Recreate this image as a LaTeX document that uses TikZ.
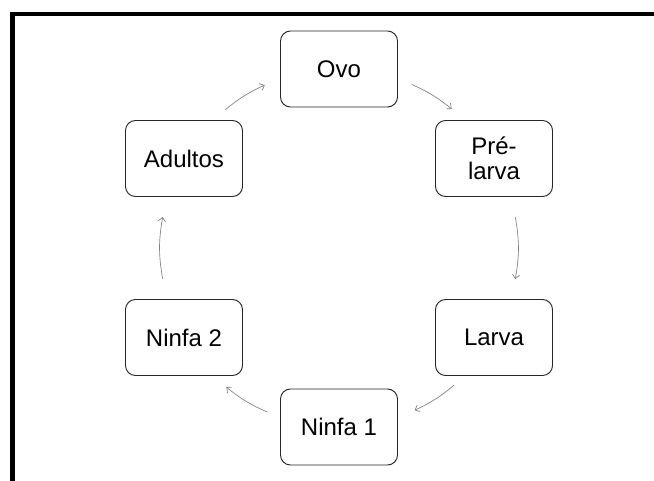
\documentclass[tikz,border=0pt]{standalone}
\usepackage{fontspec}
\setmainfont{Liberation Sans}
\usepackage{tikz}
\usetikzlibrary{arrows.meta}
\usepackage{xcolor}

\begin{document}
\begin{tikzpicture}[x=0.75pt, y=0.75pt]
        % ================= 样式定义 =================
        \tikzset{
            stage/.style={rectangle, rounded corners=7.5pt, draw=black!85, line width=0.7pt, fill=white,
                minimum width=87.75pt, minimum height=57pt, inner sep=2pt, align=center,
                font=\fontsize{18}{18.5}\selectfont},
            cycle_arrow/.style={line width=0.5pt, black!50, -{Straight Barb[length=3pt, width=5.5pt]}},
            frame_line/.style={line width=3.4pt, black, line join=miter}
        }

        % 画布范围与外框
        \useasboundingbox (-339,-232) rectangle (315,248);
        \clip (-339,-232) rectangle (315,248);
        \draw[frame_line] (-326.5,-300) -- (-326.5,234) -- (400,234);

        % ================= 六个阶段 (圆周上) =================
        \def\r{179}
        \foreach \name/\ang/\txt in {ovo/90/Ovo, pre/30/{Pré-\\larva}, larva/-30/Larva,
                ninfa1/-90/Ninfa 1, ninfa2/210/Ninfa 2, adultos/150/Adultos} {
            \node[stage] (\name) at (\ang:\r) {\txt};
        }

        % ================= 循环箭头 (沿同一圆周的短弧) =================
        \foreach \a/\b/\s/\e in {ovo/pre/66/51, pre/larva/10/-10, larva/ninfa1/-50/-65,
                ninfa1/ninfa2/246.5/231, ninfa2/adultos/190/170, adultos/ovo/129.5/114.5} {
            \coordinate (\a-out) at (\s:\r);
            \coordinate (\b-in) at (\e:\r);
            \pgfmathsetmacro{\bnd}{(\s-\e)/2}
            \draw[cycle_arrow] (\a-out) to[bend left=\bnd] (\b-in);
        }

\end{tikzpicture}
\end{document}
